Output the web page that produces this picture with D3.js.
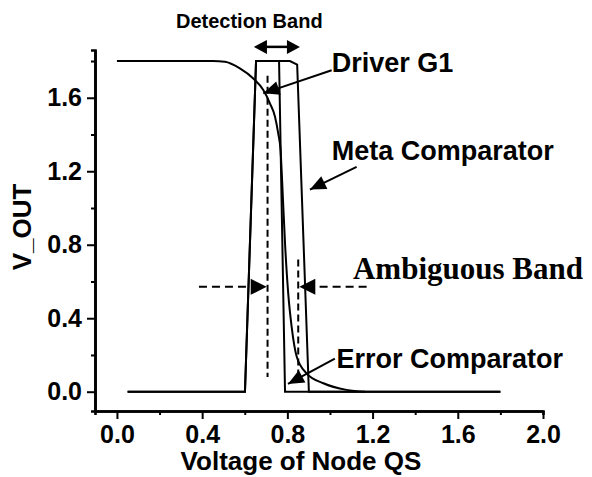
<!DOCTYPE html>
<html>
<head>
<meta charset="utf-8">
<script src="https://cdn.jsdelivr.net/npm/d3@7"></script>
<style>
  html, body { margin: 0; padding: 0; background: #fff; }
  text { font-family: "Liberation Sans", Arial, sans-serif; font-weight: bold; }
</style>
</head>
<body>
<div id="chart"></div>
<script>
// driver G1 transfer curve
var driverX = [0.0, 0.45, 0.507, 0.577, 0.64, 0.687, 0.718, 0.742, 0.757, 0.768, 0.773, 0.778, 0.789, 0.804, 0.82, 0.844, 0.89, 0.969, 1.078, 1.165]
var driverY = [1.8, 1.8, 1.796, 1.76, 1.705, 1.642, 1.57, 1.497, 1.406, 1.315, 1.207, 1.08, 0.808, 0.535, 0.354, 0.19, 0.10, 0.046, 0.01, 0.0]
// error comparator output
var errorX = [0.05, 0.601, 0.653, 0.761, 0.789, 1.8]
var errorY = [0, 0, 1.8, 1.8, 0, 0]
// meta comparator output
var metaX = [0.05, 0.601, 0.653, 0.812, 0.846, 0.901, 1.8]
var metaY = [0, 0, 1.8, 1.8, 1.78, 0, 0]
// dashed band limits
var bandLines = [{x: 0.707, y0: 0.08, y1: 1.72}, {x: 0.851, y0: 0.09, y1: 0.72}]
var xTicks = [0.0, 0.4, 0.8, 1.2, 1.6, 2.0]
var xMinor = [0.2, 0.6, 1.0, 1.4, 1.8]
var yTicks = [0.0, 0.4, 0.8, 1.2, 1.6]
var yMinor = [0.2, 0.6, 1.0, 1.4, 1.8]
var labels = [
    {text: 'Detection Band', x: 0.277, y: 1.978, size: 20, serif: false},
    {text: 'Driver G1', x: 1.008, y: 1.74, size: 27, serif: false},
    {text: 'Meta Comparator', x: 1.008, y: 1.261, size: 27, serif: false},
    {text: 'Ambiguous Band', x: 1.108, y: 0.613, size: 31, serif: true},
    {text: 'Error Comparator', x: 1.031, y: 0.127, size: 27, serif: false}
]
var pointers = [
    {x0: 1.008, y0: 1.75, x1: 0.687, y1: 1.624},
    {x0: 1.125, y0: 1.224, x1: 0.906, y1: 1.10},
    {x0: 1.023, y0: 0.18, x1: 0.803, y1: 0.042}
]
var ambiguous = {y: 0.571, left: [0.385, 0.703], right: [1.172, 0.856]}
var detection = {y: 1.877, x0: 0.643, x1: 0.859}

var width = 592, height = 477
var svg = d3.select('#chart').append('svg')
    .attr('width', width)
    .attr('height', height)

var x = d3.scaleLinear().domain([-0.103, 2.0]).range([95, 543])
var y = d3.scaleLinear().domain([-0.105, 1.86]).range([411, 50])

function zip(xs, ys) {
    return xs.map(function(v, i) { return [v, ys[i]] })
}

var line = d3.line()
    .x(function(d) { return x(d[0]) })
    .y(function(d) { return y(d[1]) })

// minor ticks
svg.append('g')
    .attr('transform', 'translate(0,411)')
    .call(d3.axisBottom(x).tickValues(xMinor).tickSize(4).tickFormat(''))
svg.append('g')
    .attr('transform', 'translate(95,0)')
    .call(d3.axisLeft(y).tickValues(yMinor).tickSize(4).tickFormat(''))

var xAxis = svg.append('g')
    .attr('transform', 'translate(0,411)')
    .call(d3.axisBottom(x).tickValues(xTicks).tickSize(8).tickSizeOuter(0).tickPadding(6).tickFormat(d3.format('.1f')))
var yAxis = svg.append('g')
    .attr('transform', 'translate(95,0)')
    .call(d3.axisLeft(y).tickValues(yTicks).tickSize(8).tickSizeOuter(0).tickPadding(5).tickFormat(d3.format('.1f')))

svg.selectAll('.domain').attr('stroke-width', 2.6).attr('stroke', '#000')
svg.selectAll('.tick line').attr('stroke-width', 2).attr('stroke', '#000')
xAxis.selectAll('text').attr('font-size', 25).attr('font-family', '"Liberation Sans", Arial').attr('font-weight', 'bold').attr('fill', '#000')
yAxis.selectAll('text').attr('font-size', 25).attr('font-family', '"Liberation Sans", Arial').attr('font-weight', 'bold').attr('fill', '#000')

svg.append('text')
    .attr('x', 301)
    .attr('y', 470)
    .attr('text-anchor', 'middle')
    .attr('font-size', 26)
    .text('Voltage of Node QS')

svg.append('text')
    .attr('transform', 'translate(31,227) rotate(-90)')
    .attr('text-anchor', 'middle')
    .attr('font-size', 26)
    .text('V_OUT')

// curves
var curves = [zip(metaX, metaY), zip(errorX, errorY)]
svg.selectAll('.pulse')
    .data(curves)
    .enter()
    .append('path')
    .attr('class', 'pulse')
    .attr('fill', 'none')
    .attr('stroke', '#000')
    .attr('stroke-width', 2)
    .attr('d', line)

svg.append('path')
    .attr('fill', 'none')
    .attr('stroke', '#000')
    .attr('stroke-width', 2)
    .attr('d', line.curve(d3.curveMonotoneX)(zip(driverX, driverY)))

// dashed verticals
svg.selectAll('.band')
    .data(bandLines)
    .enter()
    .append('line')
    .attr('x1', function(d) { return x(d.x) })
    .attr('x2', function(d) { return x(d.x) })
    .attr('y1', function(d) { return y(d.y1) })
    .attr('y2', function(d) { return y(d.y0) })
    .attr('stroke', '#000')
    .attr('stroke-width', 2)
    .attr('stroke-dasharray', '7,4')

// arrowhead helper
function head(tx, ty, fx, fy, len, half) {
    var dx = tx - fx, dy = ty - fy
    var l = Math.sqrt(dx * dx + dy * dy)
    var ux = dx / l, uy = dy / l
    var bx = tx - ux * len, by = ty - uy * len
    return [[tx, ty], [bx - uy * half, by + ux * half], [bx + uy * half, by - ux * half]]
}
function drawHead(pts) {
    svg.append('path')
        .attr('d', 'M' + pts.join('L') + 'Z')
        .attr('fill', '#000')
}

pointers.forEach(function(p) {
    var fx = x(p.x0), fy = y(p.y0), tx = x(p.x1), ty = y(p.y1)
    svg.append('line')
        .attr('x1', fx).attr('y1', fy)
        .attr('x2', tx).attr('y2', ty)
        .attr('stroke', '#000')
        .attr('stroke-width', 2)
    drawHead(head(tx, ty, fx, fy, 16, 7))
})

// ambiguous band arrows
;[ambiguous.left, ambiguous.right].forEach(function(a) {
    var fx = x(a[0]), tx = x(a[1]), yy = y(ambiguous.y)
    var dir = tx > fx ? 1 : -1
    svg.append('line')
        .attr('x1', fx).attr('y1', yy)
        .attr('x2', tx - dir * 14).attr('y2', yy)
        .attr('stroke', '#000')
        .attr('stroke-width', 2)
        .attr('stroke-dasharray', '8,5')
    drawHead(head(tx, yy, fx, yy, 16, 8))
})

// detection band double arrow
var dy0 = y(detection.y), dxa = x(detection.x0), dxb = x(detection.x1)
svg.append('line')
    .attr('x1', dxa + 10).attr('y1', dy0)
    .attr('x2', dxb - 10).attr('y2', dy0)
    .attr('stroke', '#000')
    .attr('stroke-width', 2.5)
drawHead(head(dxa, dy0, dxb, dy0, 13, 7))
drawHead(head(dxb, dy0, dxa, dy0, 13, 7))

// labels
svg.selectAll('.label')
    .data(labels)
    .enter()
    .append('text')
    .attr('class', 'label')
    .attr('x', function(d) { return x(d.x) })
    .attr('y', function(d) { return y(d.y) })
    .attr('font-size', function(d) { return d.size })
    .style('font-family', function(d) { return d.serif ? '"Liberation Serif", "Times New Roman", serif' : '"Liberation Sans", Arial, sans-serif' })
    .text(function(d) { return d.text })
</script>
</body>
</html>
